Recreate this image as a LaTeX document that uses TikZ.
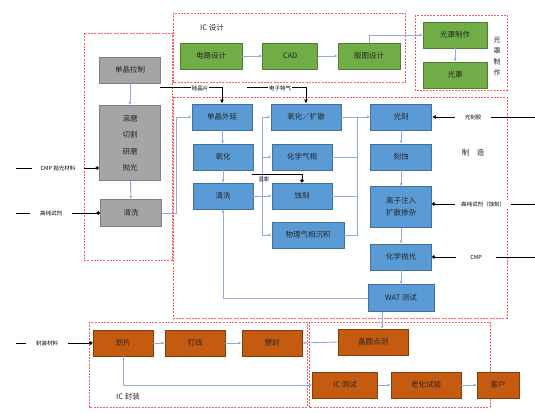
\documentclass[tikz,border=0pt]{standalone}
\usepackage{fontspec}
\setmainfont{Noto Sans CJK SC}
\usetikzlibrary{arrows.meta}
\definecolor{gfill}{HTML}{A5A5A5}\definecolor{gline}{HTML}{7F7F7F}
\definecolor{grfill}{HTML}{70AD47}\definecolor{grline}{HTML}{507E32}
\definecolor{bfill}{HTML}{5B9BD5}\definecolor{bline}{HTML}{41719C}
\definecolor{ofill}{HTML}{C55A11}\definecolor{oline}{HTML}{843C0C}
\definecolor{flowc}{HTML}{8FAADC}\definecolor{redd}{HTML}{FF5B5B}
\tikzset{
 bx/.style={draw, line width=0.9pt, inner sep=0pt, minimum height=26, font=\fontsize{7.5}{9}\selectfont, text=black!85, align=center},
 graybox/.style={bx, fill=gfill, draw=gline},
 greenbox/.style={bx, fill=grfill, draw=grline},
 bluebox/.style={bx, fill=bfill, draw=bline},
 orbox/.style={bx, fill=ofill, draw=oline},
 flow/.style={draw=flowc, line width=0.9pt, -{Latex[length=3pt,width=3pt]}},
 flowline/.style={draw=flowc, line width=0.9pt},
 inp/.style={draw=black, line width=0.7pt, -{Circle[length=3.5pt]}},
 inpa/.style={draw=black, line width=0.7pt, -{Latex[length=4pt,width=4pt]}},
 lbl/.style={fill=white, inner sep=1pt, font=\fontsize{5.5}{7}\selectfont},
 reg/.style={draw=redd, line width=0.9pt, dash pattern=on 2pt off 1.2pt},
 ttl/.style={font=\fontsize{7.5}{9}\selectfont, text=black!85},
}
\begin{document}
\begin{tikzpicture}[x=1pt,y=-1pt]
\useasboundingbox (0,0) rectangle (535,414);
% regions
\draw[reg] (173,13) rectangle (405,82);
\draw[reg] (415,15) rectangle (507,90);
\draw[reg] (84,33) rectangle (172,260);
\draw[reg] (173,97) rectangle (507,318);
\draw[reg] (89,322) rectangle (307,407);
\draw[reg] (309,322) rectangle (490,407);
\node[ttl] (tic) at (212,28) {IC 设计};
\node[ttl] (tfz) at (128,397) {IC 封装};
\node[ttl, align=center, font=\fontsize{7}{11}\selectfont] (tgz) at (497,56) {光\\罩\\制\\作};
\node[ttl] (tzz) at (473,153) {制\quad 造};
% green
\node[greenbox, minimum width=62] (dl) at (211,56) {电路设计};
\node[greenbox, minimum width=55] (cad) at (290,56) {CAD};
\node[greenbox, minimum width=62] (bt) at (369,56) {版图设计};
\node[greenbox, minimum width=64] (gzz) at (455,35) {光罩制作};
\node[greenbox, minimum width=64] (gz) at (455,75) {光罩};
% gray
\node[graybox, minimum width=61] (dj) at (130,70) {单晶拉制};
\node[graybox, minimum width=61, minimum height=75, font=\fontsize{7.5}{16.5}\selectfont] (big) at (130,143) {滚磨\\切割\\研磨\\抛光};
\node[graybox, minimum width=61, minimum height=27] (qx) at (131,213) {清洗};
% blue
\node[bluebox, minimum width=60] (wy) at (222,117) {单晶外延};
\node[bluebox, minimum width=60] (ox) at (223,157) {氧化};
\node[bluebox, minimum width=60] (qx2) at (223,196) {清洗};
\node[bluebox, minimum width=70] (yh) at (306,117) {氧化／扩散};
\node[bluebox, minimum width=60] (hx) at (302,157) {化学气相};
\node[bluebox, minimum width=60] (ks) at (302,196) {蚀刻};
\node[bluebox, minimum width=72] (wl) at (308,235) {物理气相沉积};
\node[bluebox, minimum width=61] (gk) at (401,117) {光刻};
\node[bluebox, minimum width=61] (ks2) at (401,157) {刻蚀};
\node[bluebox, minimum width=61, minimum height=41, font=\fontsize{7.5}{12}\selectfont] (lz) at (401,207) {离子注入\\扩散掺杂};
\node[bluebox, minimum width=61] (pg) at (401,257) {化学抛光};
\node[bluebox, minimum width=66, minimum height=27] (wat) at (401,298) {WAT 测试};
% orange
\node[orbox, minimum width=60] (hp) at (123,343) {划片};
\node[orbox, minimum width=60] (dx) at (195,343) {打线};
\node[orbox, minimum width=60] (sf) at (272,343) {塑封};
\node[orbox, minimum width=70] (dc) at (373,342) {晶圆点测};
\node[orbox, minimum width=65] (ic) at (345,385) {IC 测试};
\node[orbox, minimum width=70] (lh) at (426,385) {老化试验};
\node[orbox, minimum width=42] (kh) at (498,385) {客户};
% design flow
\draw[flow] (dl) -- (cad);
\draw[flow] (cad) -- (bt);
\draw[flow] (bt.north) |- (gzz.west);
\draw[flow] (gzz) -- (gz);
% silicon flow
\draw[flow] (dj) -- (big);
\draw[flow] (big) -- (qx);
\coordinate (c1) at (176,213);
\coordinate (c2) at (176,117);
\draw[flow] (qx.east) -- (c1) -- (c2) -- (wy.west);
% fab flow
\draw[flow] (wy) -- (ox);
\draw[flow] (ox) -- (qx2);
\coordinate (c3) at (223,298);
\draw[flowline, {Latex[length=3pt,width=3pt]}-] (qx2.south) -- (c3) -- (wat.west);
\coordinate (j1) at (262,196);
\draw[flow] (qx2.east) -- (ks.west);
\draw[flow] (j1) |- (yh.west);
\draw[flow] (j1) |- (hx.west);
\draw[flow] (j1) |- (wl.west);
\coordinate (j2) at (357,117);
\draw[flowline] (hx.east) -| (j2);
\draw[flowline] (ks.east) -| (j2);
\draw[flowline] (wl.east) -| (j2);
\draw[flow] (yh.east) -- (gk.west);
\draw[flow] (gk) -- (ks2);
\draw[flow] (ks2) -- (lz);
\draw[flow] (lz) -- (pg);
\draw[flow] (pg) -- (wat);
% packaging flow
\draw[flow] ([xshift=-19pt]wat.south) -- ([xshift=-19pt]wat.south |- dc.north);
\draw[flow] (dc.west) -- (sf.east);
\draw[flow] (hp) -- (dx);
\draw[flow] (dx) -- (sf);
\coordinate (c4) at (123,385);
\draw[flow] (hp.south) -- (c4) -- (ic.west);
\draw[flow] (ic) -- (lh);
\draw[flow] (lh) -- (kh);
% inputs top
\coordinate (t1) at (160,87);
\draw[inpa] (t1) -| (wy.north);
\node[lbl] (l1) at (200,88) {硅晶片};
\coordinate (t2) at (247,87);
\draw[inpa] (t2) -| (yh.north);
\node[lbl] (l2) at (280,88) {电子特气};
\coordinate (t3) at (252,174);
\draw[inp] (t3) -| (ks.north);
\node[lbl, fill=none] (l3) at (264,179) {显影};
% inputs left
\coordinate (a1) at (16,168);
\draw[inp] (a1) -- (a1 -| big.west);
\node[lbl, inner xsep=9pt] (l4) at (58,168) {CMP 抛光材料};
\coordinate (a2) at (16,213);
\draw[inp] (a2) -- (qx.west);
\node[lbl, inner xsep=10pt] (l5) at (51,213) {高纯试剂};
\coordinate (a3) at (16,343);
\draw[inp] (a3) -- (hp.west);
\node[lbl, inner xsep=10pt] (l6) at (47,343) {封装材料};
% inputs right
\coordinate (b1) at (535,117);
\draw[inpa] (b1) -- (gk.east);
\node[lbl, inner xsep=10pt] (l7) at (473,117) {光刻胶};
\coordinate (b2) at (535,204);
\draw[inp] (b2) -- (b2 -| lz.east);
\node[lbl, inner xsep=6pt] (l8) at (483,204) {高纯试剂（蚀刻）};
\coordinate (b3) at (535,257);
\draw[inp] (b3) -- (pg.east);
\node[lbl, inner xsep=14pt] (l9) at (476,257) {CMP};
\end{tikzpicture}
\end{document}
